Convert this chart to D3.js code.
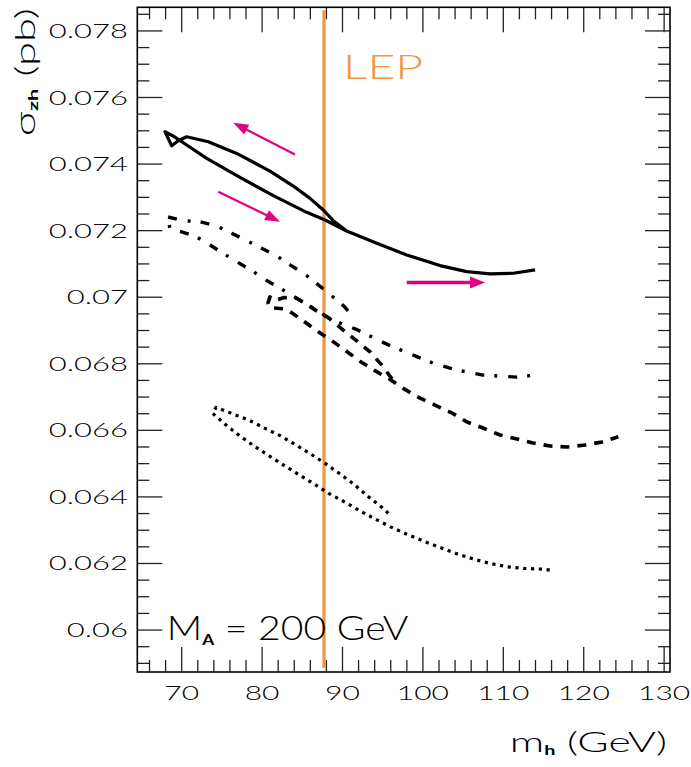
<!DOCTYPE html>
<html>
<head>
<meta charset="utf-8">
<script src="https://cdn.jsdelivr.net/npm/d3@7"></script>
<style>
    body { margin: 0; background: #fff; }
    svg { display: block; }
    text { font-family: Lato, "Liberation Sans", Arial, sans-serif; font-weight: 300; fill: #000; }
</style>
</head>
<body>
<div id="chart"></div>
<script>
// Curves: m_h (GeV) vs sigma_zh (pb)
const solidMh = [90.52, 88.86, 87.61, 85.96, 83.88, 80.98, 76.84, 73.31, 70.62, 69.58, 68.76, 67.93,
    68.96, 70.20, 73.11, 77.25, 81.40, 85.55, 87.83, 90.52, 94.26, 97.99, 102.13, 105.45, 108.35, 111.25, 113.95];
const solidSigma = [0.07199, 0.07230, 0.07262, 0.07297, 0.07334, 0.07379, 0.07432, 0.07467, 0.07482, 0.07470, 0.07455, 0.07497,
    0.07484, 0.07464, 0.07417, 0.07360, 0.07305, 0.07255, 0.07232, 0.07199, 0.07162, 0.07127, 0.07095, 0.07077, 0.07070, 0.07072, 0.07082];

const dashDotMh = [90.69, 90.23, 88.66, 86.99, 85.34, 83.47, 81.82, 79.95, 78.09, 76.22, 74.36, 72.28, 70.16, 68.14,
    68.55, 71.66, 73.52, 75.26, 77.04, 78.91, 80.57, 82.44, 84.22, 86.33, 88.45, 89.94, 91.56, 93.63, 95.50,
    97.49, 99.39, 101.26, 103.37, 105.49, 107.48, 109.59, 111.71, 113.95];
const dashDotSigma = [0.06959, 0.06972, 0.07004, 0.07037, 0.07069, 0.07097, 0.07124, 0.07147, 0.07170, 0.07192, 0.07214, 0.07227, 0.07230, 0.07242,
    0.07207, 0.07184, 0.07157, 0.07130, 0.07104, 0.07077, 0.07050, 0.07024, 0.06998, 0.06968, 0.06935, 0.06920, 0.06905, 0.06881, 0.06859,
    0.06839, 0.06820, 0.06802, 0.06787, 0.06775, 0.06766, 0.06763, 0.06760, 0.06766];

const dashedMh = [96.16, 95.00, 93.42, 91.77, 90.10, 88.32, 86.58, 84.31, 82.73, 81.61, 80.98, 80.74, 80.98,
    83.06, 84.93, 86.71, 88.57, 90.31, 92.09, 93.92, 95.70, 97.56, 99.39, 101.51, 103.62, 105.49, 107.48,
    109.59, 111.71, 113.70, 115.81, 117.92, 120.16, 122.28, 124.31];
const dashedSigma = [0.06754, 0.06793, 0.06836, 0.06869, 0.06901, 0.06937, 0.06962, 0.06997, 0.06999, 0.06990, 0.07001, 0.06983, 0.06969,
    0.06964, 0.06932, 0.06901, 0.06871, 0.06841, 0.06809, 0.06781, 0.06756, 0.06726, 0.06700, 0.06676, 0.06652, 0.06625, 0.06607,
    0.06586, 0.06574, 0.06562, 0.06553, 0.06550, 0.06556, 0.06565, 0.06581];

const dottedMh = [95.70, 94.88, 93.09, 91.43, 89.69, 87.83, 86.05, 84.22, 82.32, 80.36, 78.50, 76.42, 74.27,
    73.86, 75.51, 77.25, 79.00, 80.90, 82.73, 84.63, 86.46, 88.24, 90.19, 92.18, 94.04, 95.98, 97.99,
    99.98, 102.04, 104.12, 106.20, 108.35, 110.50, 112.70, 114.90, 115.81];
const dottedSigma = [0.06351, 0.06369, 0.06403, 0.06438, 0.06469, 0.06501, 0.06529, 0.06556, 0.06583, 0.06606, 0.06629, 0.06649, 0.06669,
    0.06651, 0.06616, 0.06583, 0.06553, 0.06523, 0.06495, 0.06466, 0.06439, 0.06411, 0.06386, 0.06358, 0.06334, 0.06310, 0.06288,
    0.06268, 0.06249, 0.06230, 0.06214, 0.06200, 0.06190, 0.06185, 0.06183, 0.06180];

// Direction arrows (start -> end)
const arrowStartMh = [84.09, 74.55, 97.99];
const arrowStartSigma = [0.07429, 0.07317, 0.07044];
const arrowEndMh = [76.42, 82.23, 107.73];
const arrowEndSigma = [0.07524, 0.07227, 0.07044];

const lepMass = 87.7;

const xTicks = [70, 80, 90, 100, 110, 120, 130];
const xTickLabels = ["70", "80", "90", "100", "110", "120", "130"];
const yTicks = [0.06, 0.062, 0.064, 0.066, 0.068, 0.07, 0.072, 0.074, 0.076, 0.078];
const yTickLabels = ["0.06", "0.062", "0.064", "0.066", "0.068", "0.07", "0.072", "0.074", "0.076", "0.078"];

const width = 691;
const height = 767;
const frame = ({left: 137.3, right: 670, top: 7.3, bottom: 672});
const orange = "#ef963f";
const magenta = "#e4007c";

const svg = d3.select("#chart")
    .append("svg")
    .attr("width", width)
    .attr("height", height);

const xScale = d3.scaleLinear()
    .domain([64.48, 130.73])
    .range([frame.left, frame.right]);

const yScale = d3.scaleLinear()
    .domain([0.05874, 0.07871])
    .range([frame.bottom, frame.top]);

const zip = (xs, ys) => xs.map((x, i) => ({mh: x, sigma: ys[i]}));

// Ticks on all four sides
const xMinor = d3.range(66, 131, 2).filter(v => v % 10 !== 0);
const yMinor = d3.range(118, 158).filter(i => i % 4 !== 0).map(i => i * 0.0005);
const major = 25, minor = 12;

const tickGroup = svg.append("g")
    .attr("stroke", "#222")
    .attr("stroke-width", 1.3);

[[xTicks, major], [xMinor, minor]].forEach(([vals, len]) => {
    vals.forEach(v => {
        const x = xScale(v);
        tickGroup.append("line").attr("x1", x).attr("x2", x)
            .attr("y1", frame.bottom).attr("y2", frame.bottom - len);
        tickGroup.append("line").attr("x1", x).attr("x2", x)
            .attr("y1", frame.top).attr("y2", frame.top + len);
    });
});

[[yTicks, major], [yMinor, minor]].forEach(([vals, len]) => {
    vals.forEach(v => {
        const y = yScale(v);
        tickGroup.append("line").attr("y1", y).attr("y2", y)
            .attr("x1", frame.left).attr("x2", frame.left + len);
        tickGroup.append("line").attr("y1", y).attr("y2", y)
            .attr("x1", frame.right).attr("x2", frame.right - len);
    });
});

svg.append("rect")
    .attr("x", frame.left)
    .attr("y", frame.top)
    .attr("width", frame.right - frame.left)
    .attr("height", frame.bottom - frame.top)
    .attr("fill", "none")
    .attr("stroke", "#000")
    .attr("stroke-width", 1.6);

// Tick labels (the original font is wide, so stretch it)
svg.append("g").selectAll("text")
    .data(xTicks)
    .join("text")
    .attr("text-anchor", "middle")
    .attr("font-size", 20)
    .attr("transform", d => `translate(${xScale(d)},700) scale(1.5,1)`)
    .text((d, i) => xTickLabels[i]);

svg.append("g").selectAll("text")
    .data(yTicks)
    .join("text")
    .attr("text-anchor", "end")
    .attr("font-size", 20)
    .attr("transform", d => `translate(128,${yScale(d) + 7}) scale(1.55,1)`)
    .text((d, i) => yTickLabels[i]);

// Axis titles
const xTitle = svg.append("text")
    .attr("text-anchor", "end")
    .attr("font-size", 28)
    .attr("transform", "translate(667,752) scale(1.53,1)");
xTitle.append("tspan").text("m");
xTitle.append("tspan").attr("font-size", 13).attr("font-weight", "bold").attr("dy", 3).text("h");
xTitle.append("tspan").attr("dy", -3).text(" (GeV)");

const yTitle = svg.append("text")
    .attr("text-anchor", "end")
    .attr("font-size", 28)
    .attr("transform", "translate(35,8) rotate(-90) scale(1.56,1)");
yTitle.append("tspan").text("σ");
yTitle.append("tspan").attr("font-size", 14).attr("font-weight", "bold").attr("dy", 3).text("zh");
yTitle.append("tspan").attr("dy", -3).text(" (pb)");

// LEP limit
svg.append("line")
    .attr("x1", xScale(lepMass))
    .attr("x2", xScale(lepMass))
    .attr("y1", frame.top + 3)
    .attr("y2", frame.bottom - 4)
    .attr("stroke", orange)
    .attr("stroke-width", 3.2);

svg.append("text")
    .attr("font-size", 33)
    .style("fill", orange)
    .attr("transform", `translate(${xScale(lepMass) + 19},${yScale(0.07656)}) scale(1.46,1)`)
    .text("LEP");

// Curves
const lineGenerator = d3.line()
    .x(d => xScale(d.mh))
    .y(d => yScale(d.sigma));

const curves = [
    {data: zip(solidMh, solidSigma), width: 3.2, dash: null},
    {data: zip(dashDotMh, dashDotSigma), width: 3.4, dash: "9,10,3,11"},
    {data: zip(dashedMh, dashedSigma), width: 3.6, dash: "9,8"},
    {data: zip(dottedMh, dottedSigma), width: 3.2, dash: "3.2,4.6"}
];

const lineGroup = svg.append("g").attr("class", "line-group");
curves.forEach(c => {
    lineGroup.append("path")
        .datum(c.data)
        .attr("d", lineGenerator)
        .attr("fill", "none")
        .attr("stroke", "#000")
        .attr("stroke-width", c.width)
        .attr("stroke-linejoin", "round")
        .attr("stroke-dasharray", c.dash);
});

// Arrows
const arrowGroup = svg.append("g").attr("class", "arrows");
arrowStartMh.forEach((m, i) => {
    const x0 = xScale(m), y0 = yScale(arrowStartSigma[i]);
    const x1 = xScale(arrowEndMh[i]), y1 = yScale(arrowEndSigma[i]);
    const a = Math.atan2(y1 - y0, x1 - x0);
    const len = 15, half = i === 2 ? 6 : 5.5;
    const bx = x1 - len * Math.cos(a), by = y1 - len * Math.sin(a);

    arrowGroup.append("line")
        .attr("x1", x0).attr("y1", y0)
        .attr("x2", bx + 3 * Math.cos(a)).attr("y2", by + 3 * Math.sin(a))
        .attr("stroke", magenta)
        .attr("stroke-width", i === 2 ? 3.4 : 2.2);

    arrowGroup.append("path")
        .attr("d", `M${x1},${y1}L${bx + half * Math.sin(a)},${by - half * Math.cos(a)}` +
            `L${bx - half * Math.sin(a)},${by + half * Math.cos(a)}Z`)
        .attr("fill", magenta);
});

// Label
const maLabel = svg.append("text")
    .attr("font-size", 34)
    .attr("transform", `translate(${frame.left + 29.4},640) scale(1.15,1)`);
maLabel.append("tspan").text("M");
maLabel.append("tspan").attr("font-size", 15).attr("font-weight", "bold").attr("dy", 5).text("A");
maLabel.append("tspan").attr("dy", -5).text(" = 200 GeV");
</script>
</body>
</html>
